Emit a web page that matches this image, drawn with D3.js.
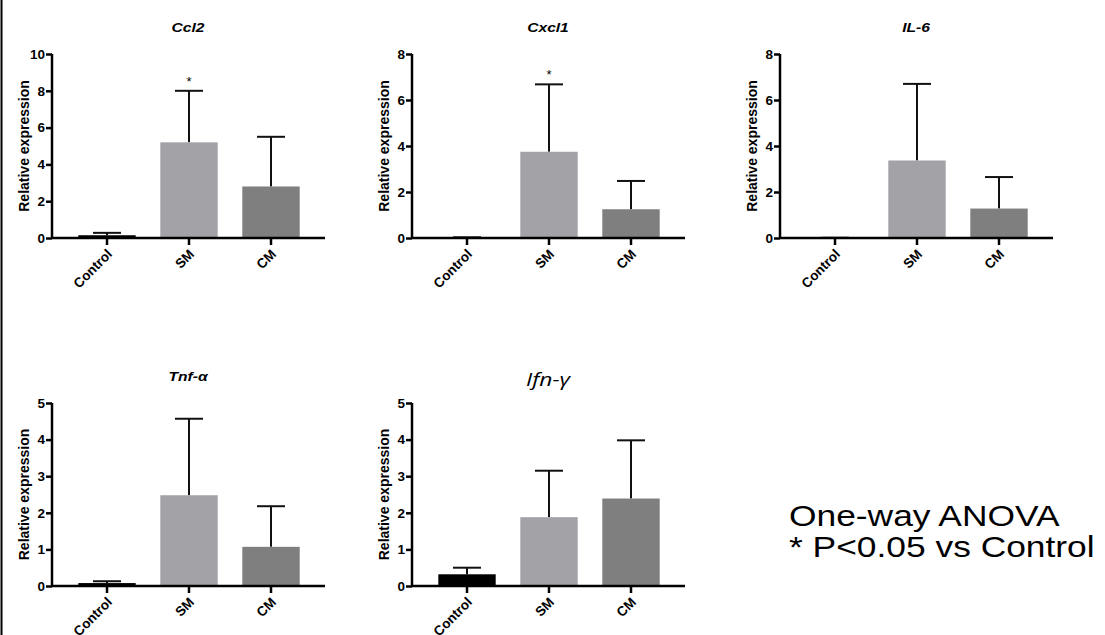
<!DOCTYPE html>
<html>
<head>
<meta charset="utf-8">
<script src="https://cdn.jsdelivr.net/npm/d3@7"></script>
<style>
  body { margin: 0; background: #fff; }
  svg { display: block; }
  .tick text { font-family: "Liberation Sans", Arial, sans-serif; font-weight: bold; font-size: 13.5px; fill: #000; }
  .domain, .tick line { stroke: #000; stroke-width: 2.5; }
</style>
</head>
<body>
<svg id="canvas" width="1105" height="635"></svg>
<script>
// data
const groups = ["Control", "SM", "CM"];
const titles = ["Ccl2", "Cxcl1", "IL-6", "Tnf-α", "Ifn-γ"];
const yMaxes = [10, 8, 8, 5, 5];
const tickSteps = [2, 2, 2, 1, 1];
const means = [
    [0.15, 5.2, 2.8],
    [0.02, 3.75, 1.25],
    [0.01, 3.37, 1.28],
    [0.08, 2.48, 1.07],
    [0.32, 1.88, 2.39]
];
const errTops = [
    [0.28, 8.0, 5.5],
    [0.03, 6.68, 2.48],
    [0.01, 6.7, 2.65],
    [0.13, 4.57, 2.18],
    [0.5, 3.15, 3.98]
];
const stars = [
    [false, true, false],
    [false, true, false],
    [false, false, false],
    [false, false, false],
    [false, false, false]
];
const noteLines = ["One-way ANOVA", "* P<0.05 vs Control"];

const colors = { Control: "#000000", SM: "#a3a2a7", CM: "#7f7f7f" };

// panel placement: y axis x, top, bottom
const origins = [
    [52, 54, 238],
    [412, 54, 238],
    [780, 54, 238],
    [52, 403, 586],
    [412, 403, 586]
];
const axisLen = 273;
const stretch = 1.2;

const svg = d3.select("#canvas");

// left border line
svg.append("line")
    .attr("x1", 1.5).attr("y1", 0)
    .attr("x2", 1.5).attr("y2", 635)
    .attr("stroke", "#000").attr("stroke-width", 2);

titles.forEach((title, i) => {
    const [ox, top, bottom] = origins[i];
    const g = svg.append("g").attr("transform", `translate(${ox},0)`);

    const x = d3.scaleBand().domain(groups)
        .range([14, 260]).paddingInner(0.3).paddingOuter(0.15);
    const y = d3.scaleLinear().domain([0, yMaxes[i]]).range([bottom, top]);

    const data = groups.map((name, j) => ({
        name, mean: means[i][j], top: errTops[i][j], star: stars[i][j]
    }));

    // error bars (drawn first, bars cover the lower part)
    const capW = 28;
    g.selectAll(".err").data(data).join("line")
        .attr("class", "err")
        .attr("x1", d => x(d.name) + x.bandwidth() / 2)
        .attr("x2", d => x(d.name) + x.bandwidth() / 2)
        .attr("y1", d => y(d.mean)).attr("y2", d => y(d.top))
        .attr("stroke", "#111").attr("stroke-width", 2);
    g.selectAll(".cap").data(data).join("line")
        .attr("class", "cap")
        .attr("x1", d => x(d.name) + x.bandwidth() / 2 - capW / 2)
        .attr("x2", d => x(d.name) + x.bandwidth() / 2 + capW / 2)
        .attr("y1", d => y(d.top)).attr("y2", d => y(d.top))
        .attr("stroke", "#111").attr("stroke-width", 2);

    g.selectAll(".bar").data(data).join("rect")
        .attr("class", "bar")
        .attr("x", d => x(d.name))
        .attr("width", x.bandwidth())
        .attr("y", d => y(d.mean))
        .attr("height", d => bottom - y(d.mean))
        .attr("fill", d => colors[d.name]);

    // significance stars
    g.selectAll(".star").data(data.filter(d => d.star)).join("text")
        .attr("class", "star")
        .attr("x", d => x(d.name) + x.bandwidth() / 2)
        .attr("y", d => y(d.top) - 5)
        .attr("text-anchor", "middle")
        .style("font-family", "Liberation Sans, Arial, sans-serif")
        .style("font-size", "13px")
        .text("*");

    // axes
    const ticks = d3.range(0, yMaxes[i] + 0.001, tickSteps[i]);
    g.append("g")
        .call(d3.axisLeft(y).tickValues(ticks).tickSize(6).tickPadding(1).tickFormat(d3.format("d")))
        .call(a => a.select(".domain").attr("d", `M0,${top}V${bottom}`));

    const xa = g.append("g").attr("transform", `translate(0,${bottom})`)
        .call(d3.axisBottom(x).tickSize(7).tickPadding(0));
    xa.select(".domain").attr("d", `M0,0H${axisLen}`);
    xa.selectAll(".tick text")
        .attr("text-anchor", "end")
        .attr("dy", null)
        .attr("transform", "translate(1,12) rotate(-45)")
        .style("font-size", "13.5px");

    // y label
    g.append("text")
        .attr("transform", `translate(-23,${(top + bottom) / 2}) rotate(-90)`)
        .attr("text-anchor", "middle")
        .style("font-family", "Liberation Sans, Arial, sans-serif")
        .style("font-weight", "bold")
        .style("font-size", "14px")
        .text("Relative expression");

    // title
    const tx = ox + 136;
    const ty = top - 22;
    if (title === "Ifn-γ") {
        svg.append("text")
            .attr("transform", `translate(${tx},${ty + 5}) scale(${stretch},1)`)
            .attr("text-anchor", "middle")
            .style("font-family", "Open Sans, Noto Sans, sans-serif")
            .style("font-style", "italic")
            .style("font-size", "19px")
            .text(title);
    } else {
        svg.append("text")
            .attr("transform", `translate(${tx},${ty}) scale(${stretch},1)`)
            .attr("text-anchor", "middle")
            .style("font-family", "Liberation Sans, Arial, sans-serif")
            .style("font-weight", "bold")
            .style("font-style", "italic")
            .style("font-size", "13px")
            .text(title);
    }
});

// note text
svg.selectAll(".note").data(noteLines).join("text")
    .attr("class", "note")
    .attr("transform", (d, k) => `translate(789,${526 + k * 31}) scale(1.22,1)`)
    .style("font-family", "Liberation Sans, Arial, sans-serif")
    .style("font-size", "29px")
    .text(d => d);
</script>
</body>
</html>
